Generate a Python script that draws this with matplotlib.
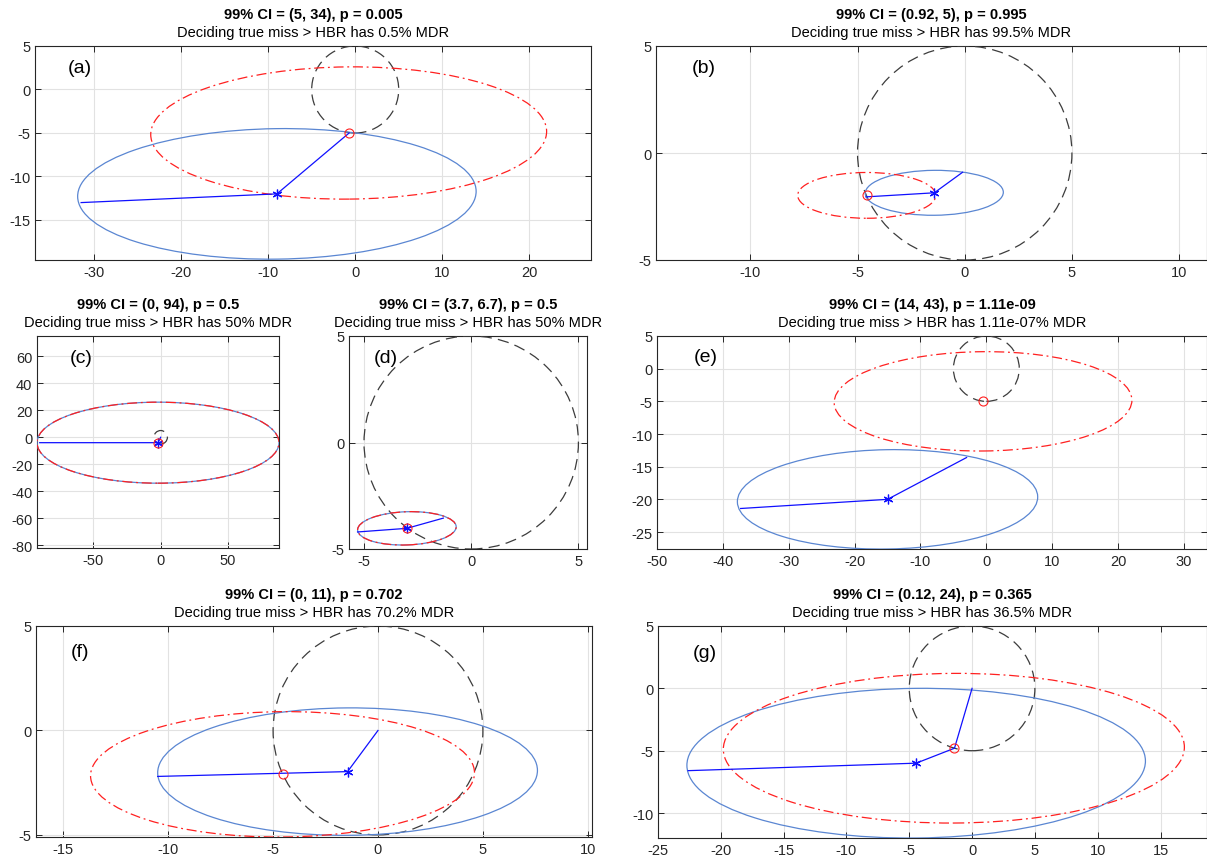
import numpy as np
import matplotlib
matplotlib.use("Agg")
import matplotlib.pyplot as plt
from matplotlib.patches import Ellipse, Circle

plt.rcParams['font.family'] = ['Liberation Sans', 'DejaVu Sans']
plt.rcParams['axes.unicode_minus'] = False

# ---- data ----
panel_tags = ['(a)', '(b)', '(c)', '(d)', '(e)', '(f)', '(g)']
ci_titles = ['99% CI = (5, 34), p = 0.005',
             '99% CI = (0.92, 5), p = 0.995',
             '99% CI = (0, 94), p = 0.5',
             '99% CI = (3.7, 6.7), p = 0.5',
             '99% CI = (14, 43), p = 1.11e-09',
             '99% CI = (0, 11), p = 0.702',
             '99% CI = (0.12, 24), p = 0.365']
mdr_titles = ['Deciding true miss > HBR has 0.5% MDR',
              'Deciding true miss > HBR has 99.5% MDR',
              'Deciding true miss > HBR has 50% MDR',
              'Deciding true miss > HBR has 50% MDR',
              'Deciding true miss > HBR has 1.11e-07% MDR',
              'Deciding true miss > HBR has 70.2% MDR',
              'Deciding true miss > HBR has 36.5% MDR']

hbr_radius = [5, 5, 5, 5, 5, 5, 5]

# blue (estimated) ellipse: centre, semi-axes, tilt in degrees
est_x = [-9.0, -1.42, -2.0, -3.0, -15.0, -1.45, -4.45]
est_y = [-12.0, -1.86, -4.0, -4.03, -20.0, -1.97, -6.0]
est_a = [22.9, 3.22, 90.0, 2.3, 22.8, 9.05, 18.25]
est_b = [7.5, 1.05, 30.0, 0.78, 7.6, 3.05, 6.0]
est_tilt = [0.8, 0.5, 0.0, 2.0, 1.0, 0.4, 0.6]

# red (true miss) ellipse
miss_x = [-0.75, -4.57, -2.0, -3.0, -0.5, -4.55, -1.45]
miss_y = [-5.0, -1.98, -4.0, -4.03, -5.0, -2.1, -4.8]
miss_a = [22.75, 3.22, 90.0, 2.3, 22.6, 9.15, 18.35]
miss_b = [7.6, 1.07, 30.0, 0.78, 7.6, 3.0, 6.0]
miss_tilt = [0.5, 0.0, 0.0, 2.0, 0.5, 0.5, 0.3]

# blue polyline through the estimate
path_x = [[-31.5, -9.0, -0.7],
          [-4.6, -1.42, -0.1],
          [-90.0, -2.0, 0.0],
          [-5.3, -3.0, -1.3],
          [-37.3, -15.0, -3.0],
          [-10.5, -1.45, 0.0],
          [-22.6, -4.45, -1.4, 0.0]]
path_y = [[-13.0, -12.0, -5.0],
          [-2.05, -1.86, -0.9],
          [-4.0, -4.0, 0.0],
          [-4.2, -4.03, -3.55],
          [-21.4, -20.0, -13.6],
          [-2.2, -1.97, 0.0],
          [-6.6, -6.0, -4.8, 0.0]]

xlims = [(-36.8, 27.1), (-14.4, 11.3), (-92, 88), (-5.7, 5.4),
         (-50, 33.5), (-16.3, 10.2), (-25, 18.7)]
ylims = [(-19.6, 5), (-5, 5), (-82, 75), (-5, 5),
         (-27.6, 5), (-5.1, 5), (-12, 5)]
xticks = [np.arange(-30, 21, 10), np.arange(-10, 11, 5), [-50, 0, 50], [-5, 0, 5],
          np.arange(-50, 31, 10), np.arange(-15, 11, 5), np.arange(-25, 16, 5)]
yticks = [np.arange(-15, 6, 5), [-5, 0, 5], np.arange(-80, 61, 20), [-5, 0, 5],
          np.arange(-25, 6, 5), [-5, 0, 5], [-10, -5, 0, 5]]

# ---- layout ----
W, H = 1207, 862
boxes = [(35, 591, 47, 261), (656, 1207, 47, 261),
         (37, 279, 337, 549), (349, 587, 337, 550), (657, 1207, 337, 550),
         (36, 592, 627, 838), (658, 1207, 627, 839)]
tag_pos = [(0.059, 0.90), (0.065, 0.90), (0.136, 0.90), (0.105, 0.90),
           (0.066, 0.906), (0.063, 0.877), (0.064, 0.877)]

fig = plt.figure(figsize=(W / 100, H / 100), dpi=100)

est_color = '#5a86d2'
for i in range(7):
    l, r, t, b = boxes[i]
    ax = fig.add_axes([l / W, 1 - b / H, (r - l) / W, (b - t) / H])

    ax.add_patch(Circle((0, 0), hbr_radius[i], fill=False, ec='#3c3c3c',
                        lw=0.9, linestyle=(0, (9, 5)), zorder=3))
    ax.add_patch(Ellipse((est_x[i], est_y[i]), 2 * est_a[i], 2 * est_b[i],
                         angle=est_tilt[i], fill=False, ec=est_color, lw=0.9, zorder=3))
    ax.add_patch(Ellipse((miss_x[i], miss_y[i]), 2 * miss_a[i], 2 * miss_b[i],
                         angle=miss_tilt[i], fill=False, ec='#ff2020', lw=0.9,
                         linestyle=(0, (8, 3, 1.5, 3)), zorder=4))
    ax.plot(path_x[i], path_y[i], color='#1010ff', lw=0.9, zorder=5)
    ax.plot(est_x[i], est_y[i], marker=(6, 2, 0), ms=7, color='#1010ff',
            mew=0.9, zorder=6)
    ax.plot(miss_x[i], miss_y[i], marker='o', ms=6.5, mfc='none', mec='#ff2020',
            mew=0.8, zorder=6)

    ax.set_xlim(xlims[i])
    ax.set_ylim(ylims[i])
    ax.set_xticks(xticks[i])
    ax.set_yticks(yticks[i])
    ax.grid(True, color='#e2e2e2', lw=0.8)
    ax.set_axisbelow(True)
    ax.tick_params(direction='in', top=True, right=True, length=4,
                   labelsize=10.5, colors='#262626', width=0.7)
    for s in ax.spines.values():
        s.set_color('#262626')
        s.set_linewidth(0.8)

    ax.text(tag_pos[i][0], tag_pos[i][1], panel_tags[i], transform=ax.transAxes,
            fontsize=14, ha='left', va='center', color='black')
    ax.annotate(ci_titles[i], xy=(0.5, 1), xycoords='axes fraction',
                xytext=(0, 23), textcoords='offset points', ha='center',
                va='center', fontsize=10.5, fontweight='bold')
    ax.annotate(mdr_titles[i], xy=(0.5, 1), xycoords='axes fraction',
                xytext=(0, 10), textcoords='offset points', ha='center',
                va='center', fontsize=10.5)

fig.savefig('out.png', dpi=100)
